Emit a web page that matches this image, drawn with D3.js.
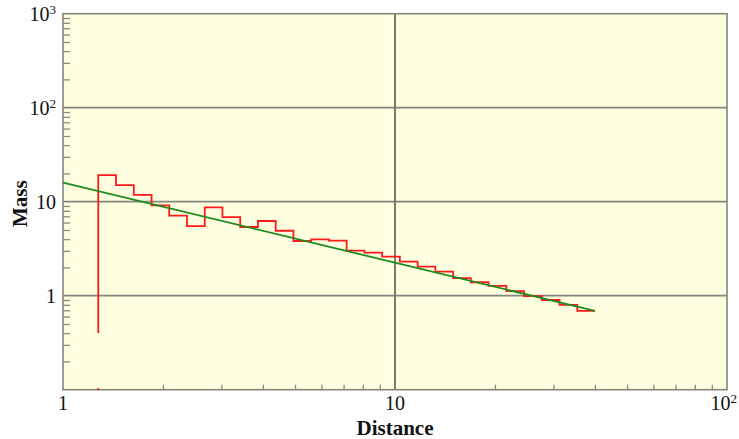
<!DOCTYPE html>
<html><head><meta charset="utf-8">
<script src="https://cdn.jsdelivr.net/npm/d3@7"></script>
<style>body{margin:0;background:#fff} svg{display:block}</style>
</head><body><svg id="c" width="739" height="439"></svg>
<script>
// ---- data ----
const binEdges = [1.277, 1.444, 1.634, 1.848, 2.089, 2.363, 2.673, 3.022, 3.418, 3.866,
  4.372, 4.943, 5.591, 6.322, 7.150, 8.087, 9.147, 10.34, 11.70, 13.23,
  14.96, 16.92, 19.13, 21.64, 24.47, 27.68, 31.30, 35.40, 40.04];
const massValues = [19.2, 15.0, 11.8, 9.16, 7.10, 5.51, 8.71, 6.87, 5.38, 6.23,
  4.91, 3.82, 3.98, 3.85, 3.01, 2.87, 2.60, 2.30, 2.04, 1.80,
  1.54, 1.39, 1.27, 1.12, 0.99, 0.90, 0.80, 0.69];
const startMass = 0.4;
const fitDistance = [1, 40.04];
const fitMass = [16.0, 0.688];
const xTickValues = [1, 10, 100];
const xTickLabels = ["1", "10", "10^2"];
const yTickValues = [1, 10, 100, 1000];
const yTickLabels = ["1", "10", "10^2", "10^3"];
const xLabel = "Distance";
const yLabel = "Mass";

// ---- layout ----
const svg = d3.select("#c");
const L = 63, R = 727, T = 13.7, B = 389.7;
const x = d3.scaleLog().domain([1, 100]).range([L, R]);
const y = d3.scaleLog().domain([0.1, 1000]).range([B, T]);
const serif = "'Liberation Serif','Times New Roman',serif";

svg.append("rect").attr("x", L).attr("y", T).attr("width", R - L).attr("height", B - T)
  .attr("fill", "#ffffe0");

// minor ticks
const minorY = [];
[0.1, 1, 10, 100].forEach(d => { for (let k = 2; k <= 9; k++) minorY.push(d * k); });
const minorX = [];
[1, 10].forEach(d => { for (let k = 2; k <= 9; k++) minorX.push(d * k); });

const gy = svg.append("g").attr("transform", `translate(${L},0)`)
  .call(d3.axisLeft(y).tickValues(minorY).tickSize(-7).tickFormat(""));
const gx = svg.append("g").attr("transform", `translate(0,${B})`)
  .call(d3.axisBottom(x).tickValues(minorX).tickSize(-5).tickFormat(""));
[gx, gy].forEach(g => {
  g.select(".domain").remove();
  g.selectAll("line").attr("stroke", "#8a8a80").attr("stroke-width", 1.3);
});

// grid lines
svg.append("g").selectAll("line").data([1, 10, 100]).join("line")
  .attr("x1", L).attr("x2", R).attr("y1", d => y(d)).attr("y2", d => y(d))
  .attr("stroke", "#85857c").attr("stroke-width", 1.8);
svg.append("g").selectAll("line").data([10]).join("line")
  .attr("x1", d => x(d)).attr("x2", d => x(d)).attr("y1", T).attr("y2", B)
  .attr("stroke", "#6e6e68").attr("stroke-width", 1.8);

// frame
svg.append("rect").attr("x", L).attr("y", T).attr("width", R - L).attr("height", B - T)
  .attr("fill", "none").attr("stroke", "#85857c").attr("stroke-width", 1.6);

// histogram step line
const pts = [[binEdges[0], startMass]];
massValues.forEach((m, i) => pts.push([binEdges[i], m]));
pts.push([binEdges[binEdges.length - 1], massValues[massValues.length - 1]]);
const line = d3.line().x(d => x(d[0])).y(d => y(d[1])).curve(d3.curveStepAfter);
svg.append("path").attr("d", line(pts)).attr("fill", "none")
  .attr("stroke", "#ff1a1a").attr("stroke-width", 1.8);
svg.append("rect").attr("x", x(binEdges[0]) - 1).attr("y", y(0.1) - 1.5)
  .attr("width", 2).attr("height", 2).attr("fill", "#e02020");

// fit line
const fit = fitDistance.map((d, i) => [d, fitMass[i]]);
svg.append("path").attr("d", d3.line().x(d => x(d[0])).y(d => y(d[1]))(fit))
  .attr("fill", "none").attr("stroke", "#1f8a1f").attr("stroke-width", 1.8);

// tick labels with superscripts
function label(sel, s) {
  const [base, sup] = s.split("^");
  sel.append("tspan").text(base);
  if (sup) sel.append("tspan").attr("dy", -7).attr("font-size", 13).text(sup);
}
xTickValues.forEach((v, i) => {
  const t = svg.append("text").attr("font-family", serif).attr("font-size", 20)
    .attr("fill", "#111").attr("y", 409.5);
  const sup = xTickLabels[i].includes("^");
  t.attr("x", sup ? x(v) : x(v)).attr("text-anchor", sup ? "end" : "middle");
  if (sup) t.attr("dx", 10);
  label(t, xTickLabels[i]);
});
yTickValues.forEach((v, i) => {
  const t = svg.append("text").attr("font-family", serif).attr("font-size", 20)
    .attr("fill", "#111").attr("x", 56).attr("y", y(v)).attr("dy", "0.35em")
    .attr("text-anchor", "end");
  label(t, yTickLabels[i]);
});

// axis titles
svg.append("text").attr("font-family", serif).attr("font-size", 21).attr("font-weight", "bold")
  .attr("fill", "#111").attr("text-anchor", "middle").attr("x", x(10)).attr("y", 434.5).text(xLabel);
svg.append("text").attr("font-family", serif).attr("font-size", 21).attr("font-weight", "bold")
  .attr("fill", "#111").attr("text-anchor", "middle")
  .attr("transform", `translate(27,${(T + B) / 2 + 2}) rotate(-90)`).text(yLabel);
</script></body></html>
